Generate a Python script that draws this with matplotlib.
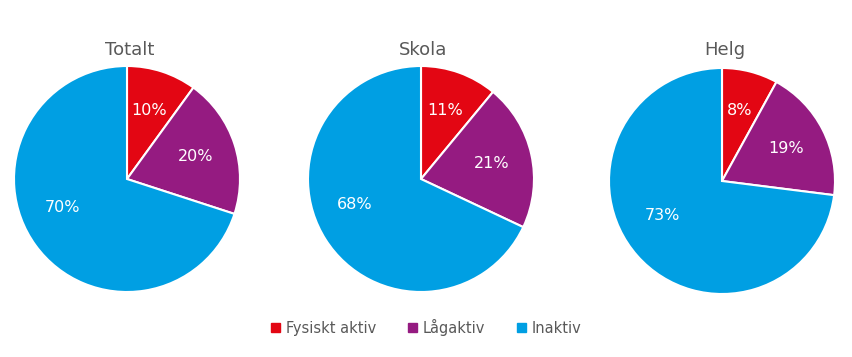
import matplotlib.pyplot as plt
from matplotlib.patches import Patch

titles = ['Totalt', 'Skola', 'Helg']
categories = ['Fysiskt aktiv', 'Lågaktiv', 'Inaktiv']
totalt = [10, 20, 70]
skola = [11, 21, 68]
helg = [8, 19, 73]
colors = ['#E30613', '#951B81', '#009FE3']

fig = plt.figure(figsize=(8.53, 3.57), dpi=100)
W, H = 853, 357

centers = [(127, 179), (421, 179), (722, 181)]
radius = 113

for (cx, cy), title, vals in zip(centers, titles, [totalt, skola, helg]):
    ax = fig.add_axes([(cx - radius) / W, (H - cy - radius) / H, 2 * radius / W, 2 * radius / H])
    wedges, texts, autotexts = ax.pie(vals, colors=colors, startangle=90, counterclock=False,
                                      autopct='%d%%', pctdistance=0.64,
                                      wedgeprops=dict(edgecolor='white', linewidth=1.5),
                                      textprops=dict(color='white', fontsize=11.5))
    # nudge the big slice label up a little, like the original
    x, y = autotexts[2].get_position()
    autotexts[2].set_position((x - 0.05, y + 0.12))
    ax.set_xlim(-1, 1)
    ax.set_ylim(-1, 1)
    ax.set_aspect('equal')
    ax.axis('off')
    fig.text(cx / W + 0.003, (H - 50) / H, title, ha='center', va='center',
             fontsize=13, color='#595959')

handles = [Patch(color=c, label=l) for c, l in zip(colors, categories)]
fig.legend(handles=handles, loc='center', bbox_to_anchor=(0.5, (H - 327) / H),
           ncol=3, frameon=False, fontsize=10.5, labelcolor='#595959',
           handlelength=0.6, handleheight=0.6, columnspacing=2.2, handletextpad=0.4)

fig.savefig('out.png', dpi=100)
